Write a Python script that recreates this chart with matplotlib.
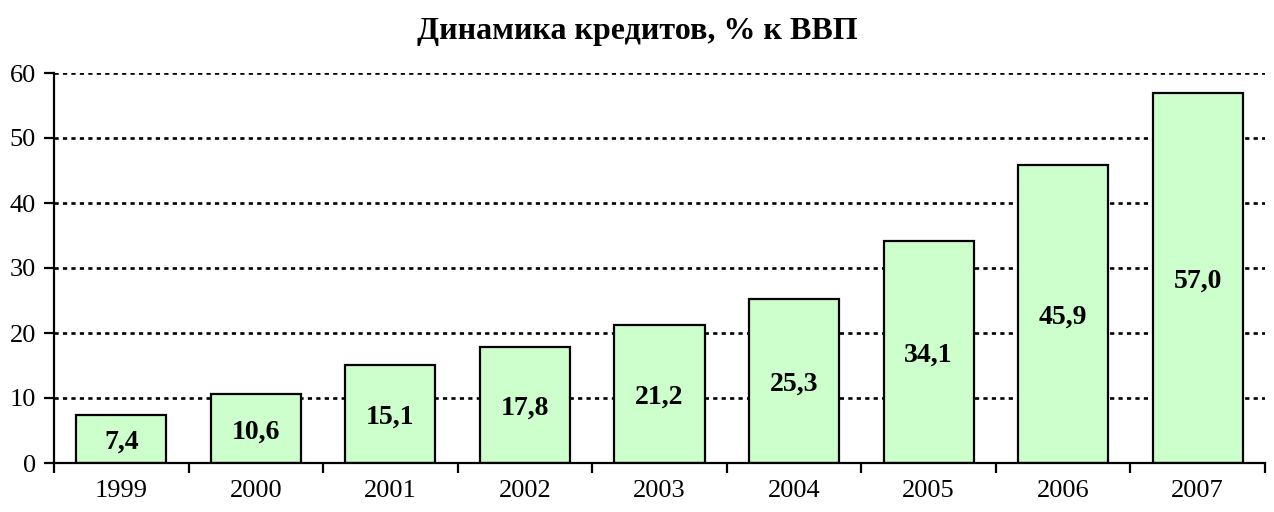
import matplotlib
matplotlib.use("Agg")
import matplotlib.pyplot as plt
import numpy as np

years = ["1999", "2000", "2001", "2002", "2003", "2004", "2005", "2006", "2007"]
values = [7.4, 10.6, 15.1, 17.8, 21.2, 25.3, 34.1, 45.9, 57.0]
labels = ["7,4", "10,6", "15,1", "17,8", "21,2", "25,3", "34,1", "45,9", "57,0"]
title = "Динамика кредитов, % к ВВП"

plt.rcParams['font.family'] = ['Liberation Serif', 'DejaVu Serif']
fig = plt.figure(figsize=(12.74, 5.12), dpi=100)
ax = fig.add_axes([54/1274, (512-463)/512, 1211/1274, (463-73)/512])

x = np.arange(len(years))
green = "#CCFFCC"
ax.bar(x, values, width=0.67, color=green, edgecolor="black", linewidth=1.6, zorder=3)
for xi, v, lab in zip(x, values, labels):
    ax.text(xi, v / 2 - 0.5, lab, ha="center", va="center", fontsize=20, fontweight="bold",
            zorder=4, bbox=dict(facecolor=green, edgecolor="none", pad=3))

ax.set_xlim(-0.5, len(years) - 0.5)
ax.set_ylim(0, 60)
ax.set_yticks(range(0, 61, 10))
ax.set_xticks(x)
ax.set_xticklabels(years)
ax.set_xticks(np.arange(-0.5, len(years), 1), minor=True)
ax.tick_params(axis="x", which="major", length=0, pad=12, labelsize=19)
ax.tick_params(axis="x", which="minor", length=7, width=1.6, direction="out")
ax.tick_params(axis="y", length=7, width=1.6, labelsize=19, pad=6)
ax.yaxis.grid(True, linestyle=(0, (1.6, 1.6)), color="black", linewidth=1.9, zorder=0)
ax.set_axisbelow(True)
for s in ["top", "right"]:
    ax.spines[s].set_visible(False)
for s in ["left", "bottom"]:
    ax.spines[s].set_linewidth(1.6)
    ax.spines[s].set_zorder(5)

fig.text(0.5, 1 - 31/512, title, ha="center", va="center", fontsize=23, fontweight="bold")
fig.savefig("out.png", dpi=100)
